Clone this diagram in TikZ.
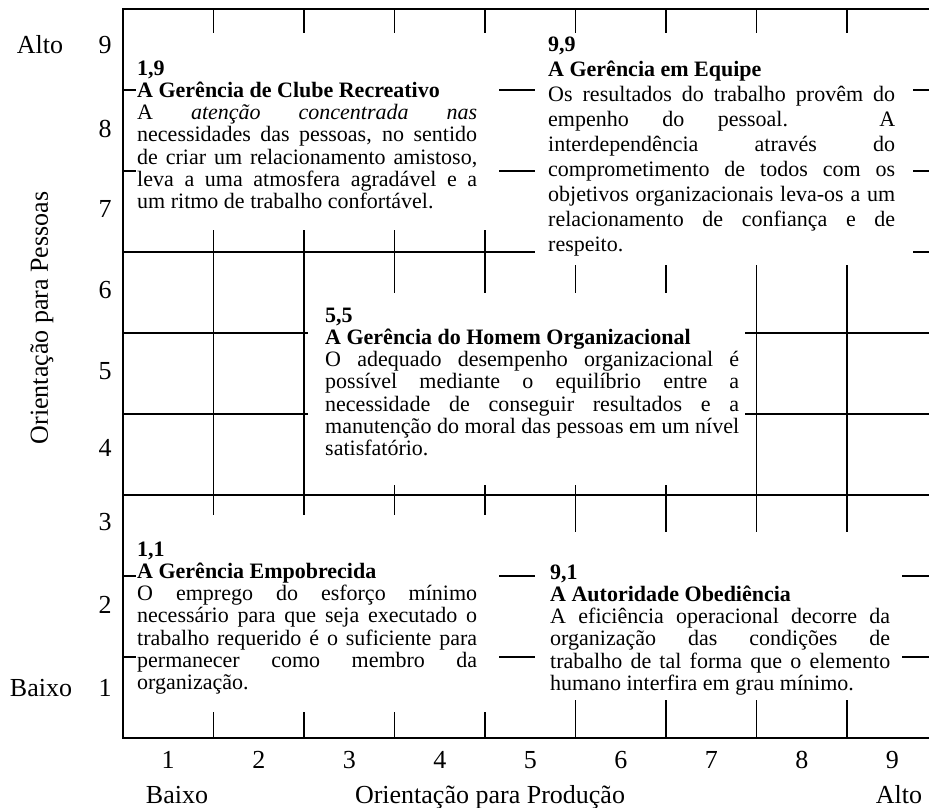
\documentclass[tikz,border=0pt]{standalone}
\usepackage{fontspec}
\setmainfont{Liberation Serif}
\newcommand\jl[1]{\makebox[\linewidth][s]{#1}\\}
\newcommand\bodytxt{\fontsize{22}{22.3}\selectfont\lineskiplimit=-100pt\relax}
\newcommand\bodywide{\fontsize{22}{25}\selectfont\lineskiplimit=-100pt\relax}
\newcommand\labtxt{\fontsize{26}{30}\selectfont}
\begin{document}
\begin{tikzpicture}[x=1pt,y=-1pt,
 gridline/.style={line width=1.5pt,black},
 blank/.style={fill=white,draw=none},
 txt/.style={anchor=base west,inner sep=0pt,font=\bodytxt},
 txtwide/.style={anchor=base west,inner sep=0pt,font=\bodywide},
 lab/.style={inner sep=0pt,font=\labtxt},
 labbase/.style={anchor=base,inner sep=0pt,font=\labtxt}]
\useasboundingbox (0,0) rectangle (929,808);
% grid
\foreach \x in {213.5,304,394.5,485,575.5,666,756.5,847}
  \draw[gridline] (\x,9) -- (\x,738);
\foreach \y in {90,171,252,333,414,495,576,657}
  \draw[gridline] (123,\y) -- (929,\y);
\draw[gridline] (929,9) -- (123,9) -- (123,738) -- (929,738);
% white text areas
\fill[blank] (136,33) rectangle (499,230);
\fill[blank] (535,33) rectangle (913,265);
\fill[blank] (308,293) rectangle (745,485);
\fill[blank] (136,515) rectangle (499,712);
\fill[blank] (535,532) rectangle (902,700);
% texts
\node[txt] (t19) at (137,75) {\parbox[t]{340pt}{%
\textbf{1,9}\\
\textbf{A Gerência de Clube Recreativo}\\
\jl{A \textit{atenção concentrada nas}}
\jl{necessidades das pessoas, no sentido}
\jl{de criar um relacionamento amistoso,}
\jl{leva a uma atmosfera agradável e a}
um ritmo de trabalho confortável.}};
\node[txtwide] (t99) at (548,52) {\parbox[t]{347pt}{%
\textbf{9,9}\\
\textbf{A Gerência em Equipe}\\
\jl{Os resultados do trabalho provêm do}
\jl{empenho do pessoal. A}
\jl{interdependência através do}
\jl{comprometimento de todos com os}
\jl{objetivos organizacionais leva-os a um}
\jl{relacionamento de confiança e de}
respeito.}};
\node[txt] (t55) at (325,322) {\parbox[t]{414pt}{%
\textbf{5,5}\\
\textbf{A Gerência do Homem Organizacional}\\
\jl{O adequado desempenho organizacional é}
\jl{possível mediante o equilíbrio entre a}
\jl{necessidade de conseguir resultados e a}
\jl{manutenção do moral das pessoas em um nível}
satisfatório.}};
\node[txt] (t11) at (137,556) {\parbox[t]{340pt}{%
\textbf{1,1}\\
\textbf{A Gerência Empobrecida}\\
\jl{O emprego do esforço mínimo}
\jl{necessário para que seja executado o}
\jl{trabalho requerido é o suficiente para}
\jl{permanecer como membro da}
organização.}};
\node[txt] (t91) at (550,579) {\parbox[t]{340pt}{%
\textbf{9,1}\\
\textbf{A Autoridade Obediência}\\
\jl{A eficiência operacional decorre da}
\jl{organização das condições de}
\jl{trabalho de tal forma que o elemento}
humano interfira em grau mínimo.}};
% y axis numbers
\node[lab] (y9) at (105,45) {9};
\node[lab] (y8) at (105,129) {8};
\node[lab] (y7) at (105,209) {7};
\node[lab] (y6) at (105,290) {6};
\node[lab] (y5) at (105,371) {5};
\node[lab] (y4) at (105,448) {4};
\node[lab] (y3) at (105,522) {3};
\node[lab] (y2) at (105,605) {2};
\node[lab] (y1) at (105,688) {1};
% x axis numbers
\node[lab] (x1) at (168,760) {1};
\node[lab] (x2) at (258.75,760) {2};
\node[lab] (x3) at (349.25,760) {3};
\node[lab] (x4) at (439.75,760) {4};
\node[lab] (x5) at (530.25,760) {5};
\node[lab] (x6) at (620.75,760) {6};
\node[lab] (x7) at (711.25,760) {7};
\node[lab] (x8) at (801.75,760) {8};
\node[lab] (x9) at (892.25,760) {9};
% axis words
\node[lab] (altoy) at (40,45) {Alto};
\node[lab] (baixoy) at (41,688) {Baixo};
\node[lab,rotate=90] (pessoas) at (42,318) {Orientação para Pessoas};
\node[labbase] (baixox) at (177,803) {Baixo};
\node[labbase] (producao) at (490,803) {Orientação para Produção};
\node[labbase] (altox) at (899,803) {Alto};
\end{tikzpicture}
\end{document}
